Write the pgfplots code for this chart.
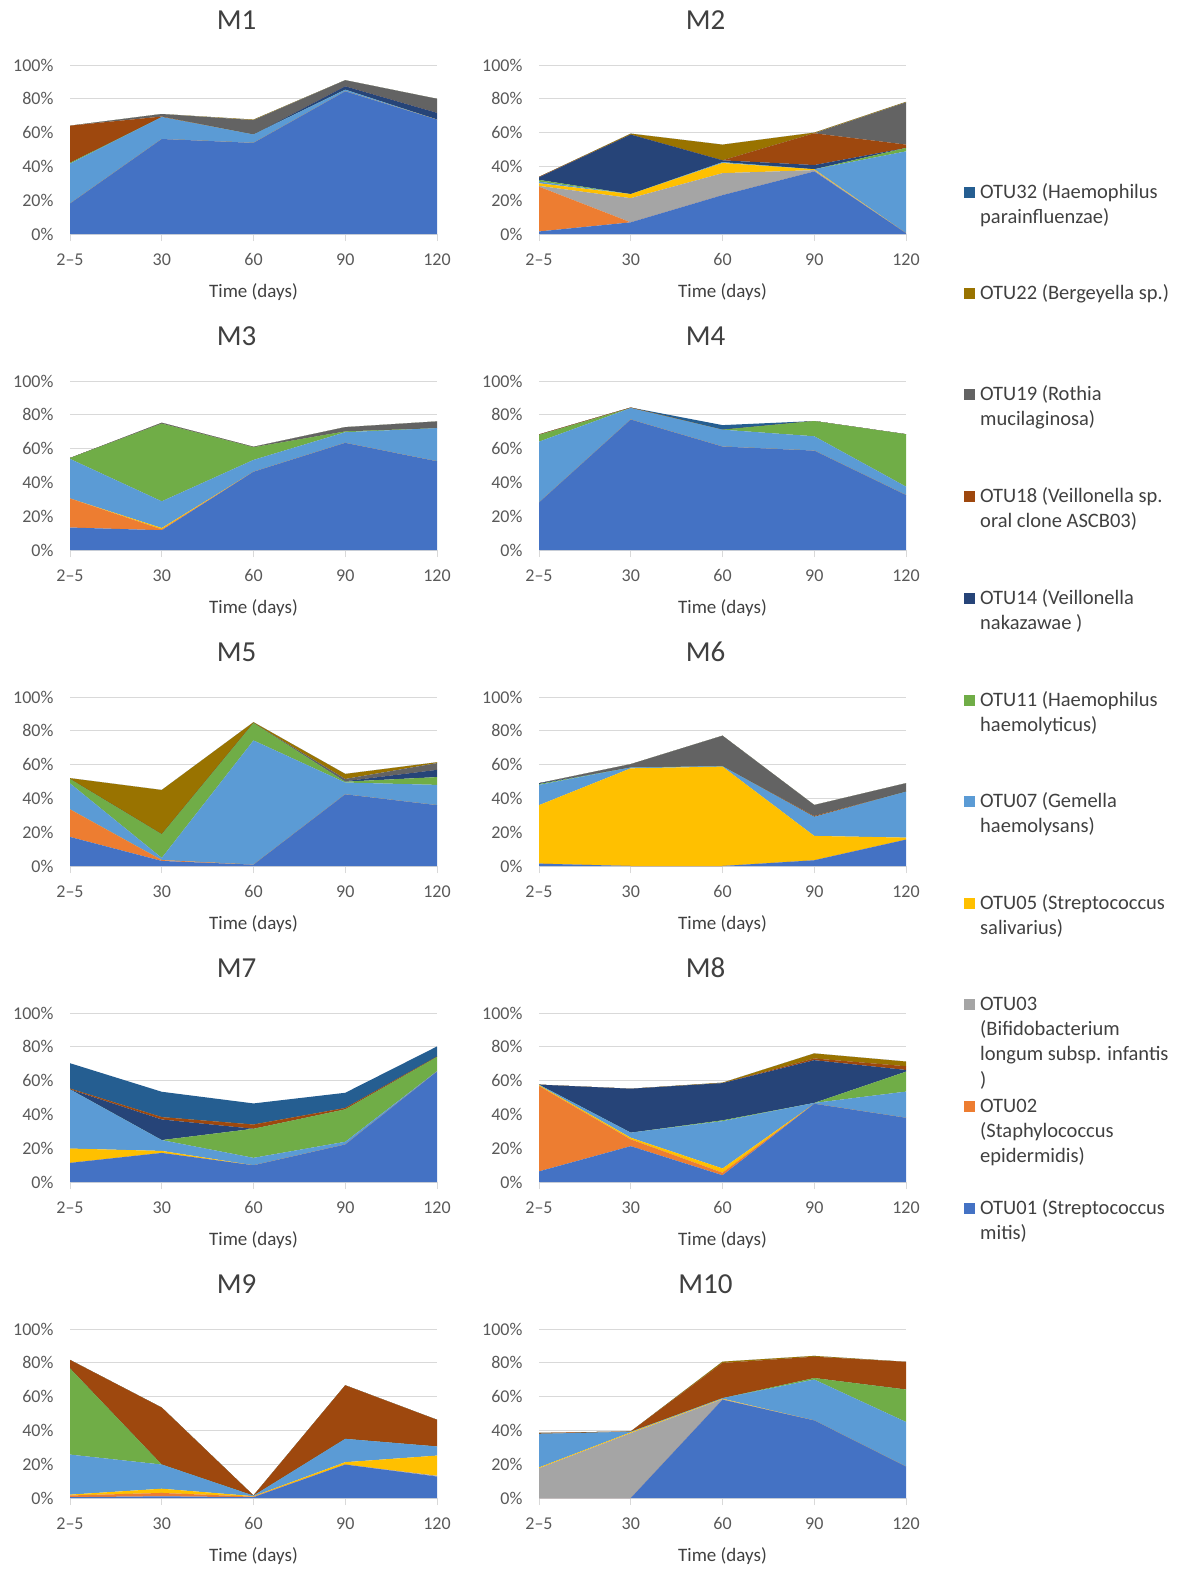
\documentclass[border=0pt]{standalone}
\usepackage{fontspec}
\setmainfont{Carlito}
\usepackage{pgfplots}
\usepackage{pgfplotstable}
\pgfplotsset{compat=1.18}

\definecolor{c01}{HTML}{4472C4}
\definecolor{c02}{HTML}{ED7D31}
\definecolor{c03}{HTML}{A5A5A5}
\definecolor{c05}{HTML}{FFC000}
\definecolor{c07}{HTML}{5B9BD5}
\definecolor{c11}{HTML}{70AD47}
\definecolor{c14}{HTML}{264478}
\definecolor{c18}{HTML}{9E480E}
\definecolor{c19}{HTML}{636363}
\definecolor{c22}{HTML}{997300}
\definecolor{c32}{HTML}{255E91}
\definecolor{axgray}{HTML}{D9D9D9}
\definecolor{tickgray}{HTML}{595959}
\definecolor{labgray}{HTML}{404040}

% columns: time index, then OTU01 OTU02 OTU03 OTU05 OTU07 OTU11 OTU14 OTU18 OTU19 OTU22 OTU32 (%)
\pgfplotstableread{
t a01 a02 a03 a05 a07 a11 a14 a18 a19 a22 a32
0 18   0 0 0 23.6 0.5 0 22  0   0   0
1 56.2 0 0 0 13   0   0 0.3 1.5 0   0
2 53.9 0 0 0 5    0   0 0   8.5 0.3 0
3 84.4 0 0 0 1    0   2 0   3.6 0   0
4 67.7 0 0 0 0    0   4 0   8.3 0   0
}\tMone
\pgfplotstableread{
t a01 a02 a03 a05 a07 a11 a14 a18 a19 a22 a32
0 1.5 26.5 0.5  1.5 1    1 1.5  0.3  0  0   0
1 6.9 0    14.3 2.4 0    0 35.2 0    0  0.6 0
2 23  0    13   6   0.5  0 1.1  0    0  9.3 0
3 37  0    0.8  0.5 0    0 2.5  18.8 0  0.4 0
4 0.5 0    0    0   48.4 2 0    2    25 0.3 0
}\tMtwo
\pgfplotstableread{
t a01 a02 a03 a05 a07 a11 a14 a18 a19 a22 a32
0 13.3 17.2 0 0   23.4 0.5 0 0 0   0 0
1 11.7 0.5  0 0.8 15.8 46  0 0 0.5 0 0
2 46.3 0    0 0   7    7.5 0 0 0.3 0 0
3 63.4 0    0 0   6.3  0.5 0 0 2.5 0 0
4 52.5 0    0 0   19.6 0   0 0 4   0 0
}\tMthree
\pgfplotstableread{
t a01 a02 a03 a05 a07 a11 a14 a18 a19 a22 a32
0 28.1 0 0 0 36  4  0 0.3 0 0 0
1 77.2 0 0 0 6.8 0  0 0.3 0 0 0
2 61.2 0 0 0 10  0  0 0   0 0 2.7
3 58.8 0 0 0 8.5 9  0 0   0 0 0
4 32.5 0 0 0 5   31 0 0   0 0 0
}\tMfour
\pgfplotstableread{
t a01 a02 a03 a05 a07 a11 a14 a18 a19 a22 a32
0 17.2 16.3 0 0 15.4 2.6  0   0 0   0.5  0
1 3    0.5  0 0 1.3  14   0   0 0   26.2 0
2 0.8  0    0 0 73.5 10.3 0   0 0   0.5  0
3 42.4 0    0 0 7    0.5  0.3 0 1.3 3    0
4 36   0    0 0 12   4.6  4.3 0 4   0.5  0
}\tMfive
\pgfplotstableread{
t a01 a02 a03 a05 a07 a11 a14 a18 a19 a22 a32
0 1.4  0 0 34.6 12   0.5 0.5 0   0   0 0
1 0    0 0 57.8 0.5  0   0   0   2   0 0
2 0    0 0 58.8 0.3  0   0   0   18  0 0
3 3.4  0 0 14.4 11.3 0   0   0.5 6.5 0 0
4 15.6 0 0 1.2  27.2 0   0   0   5   0 0
}\tMsix
\pgfplotstableread{
t a01 a02 a03 a05 a07 a11 a14 a18 a19 a22 a32
0 11.3 0 0 8.5 35  0    0    0.5 0 0 15
1 17.2 0 0 1.2 6.4 0    12.2 1.4 0 0 15
2 9.9  0 0 0   4.4 17.2 0    2.5 0 0 12.5
3 22.2 0 0 0   1.6 19.2 0    0.8 0 0 9
4 65.3 0 0 0   0.3 8.4  0    0.2 0 0 6
}\tMseven
\pgfplotstableread{
t a01 a02 a03 a05 a07 a11 a14 a18 a19 a22 a32
0 6.3  50.5 0 0.5 0.3  0    0    0   0 0   0
1 21.2 4    0 1   3    0    26   0   0 0   0
2 4    1.5  0 2.5 28   0.5  22   0   0 0.3 0
3 46.3 0    0 0   0.5  0    25.3 1   0 3   0
4 38   0    0 0   15.5 11.8 1    2.2 0 2.8 0
}\tMeight
\pgfplotstableread{
t a01 a02 a03 a05 a07 a11 a14 a18 a19 a22 a32
0 0.5  1   0   0.5  23.7 51 0 5    0 0 0
1 1    2   0   2.5  14.3 0  0 33.7 0 0 0
2 0.5  0.3 0   0.3  0.3  0  0 0.1  0 0 0
3 19.8 0   0   1.4  13.8 0  0 31.7 0 0 0
4 12.7 0   0.5 11.9 5.4  0  0 15.8 0 0 0
}\tMnine
\pgfplotstableread{
t a01 a02 a03 a05 a07 a11 a14 a18 a19 a22 a32
0 0    0 17.6 0.5 19.9 0    0 0.5  0 0   0
1 0    0 38.4 0.5 0.3  0    0 0.2  0 0   0
2 58.2 0 0.3  0.3 0.3  0    0 20.8 0 0.8 0
3 45.9 0 0    0   24.2 0.9  0 12.6 0 0.5 0
4 18.6 0 0    0   26.4 19.2 0 16.4 0 0   0
}\tMten

\pgfplotsset{panel/.style={
  scale only axis, width=367pt, height=169pt,
  anchor=north west,
  xmin=0, xmax=4, ymin=0, ymax=100,
  xtick={0,1,2,3,4}, xticklabels={2–5,30,60,90,120},
  ytick={0,20,40,60,80,100}, yticklabels={0\%,20\%,40\%,60\%,80\%,100\%},
  axis lines*=left,
  x axis line style={-, draw=axgray, line width=1pt},
  y axis line style={draw=none},
  ymajorgrids, grid style={draw=axgray, line width=1pt},
  tick align=outside,
  major tick length=7pt,
  xtick style={draw=axgray, line width=1pt},
  ytick style={draw=none},
  tick label style={font=\fontsize{18}{20}\selectfont, text=tickgray},
  xticklabel style={yshift=-9pt},
  yticklabel style={xshift=-6pt},
  xlabel={Time (days)},
  xlabel style={font=\fontsize{19}{22}\selectfont, text=labgray, at={(0.5,0)}, anchor=center, yshift=-58pt},
  title style={font=\fontsize{29}{32}\selectfont, text=labgray, at={(0.5,1)}, anchor=center, yshift=39pt, xshift=-17pt},
  stack plots=y,
}}

\newcommand{\panel}[3]{%
\begin{axis}[panel, at={#3}, title={#2}]
\addplot[fill=c01,draw=none] table[x=t,y=a01]{#1} \closedcycle;
\addplot[fill=c02,draw=none] table[x=t,y=a02]{#1} \closedcycle;
\addplot[fill=c03,draw=none] table[x=t,y=a03]{#1} \closedcycle;
\addplot[fill=c05,draw=none] table[x=t,y=a05]{#1} \closedcycle;
\addplot[fill=c07,draw=none] table[x=t,y=a07]{#1} \closedcycle;
\addplot[fill=c11,draw=none] table[x=t,y=a11]{#1} \closedcycle;
\addplot[fill=c14,draw=none] table[x=t,y=a14]{#1} \closedcycle;
\addplot[fill=c18,draw=none] table[x=t,y=a18]{#1} \closedcycle;
\addplot[fill=c19,draw=none] table[x=t,y=a19]{#1} \closedcycle;
\addplot[fill=c22,draw=none] table[x=t,y=a22]{#1} \closedcycle;
\addplot[fill=c32,draw=none] table[x=t,y=a32]{#1} \closedcycle;
\end{axis}}

\newcommand{\legline}[2]{\node[anchor=base west,inner sep=0pt,font=\fontsize{20.5}{24}\selectfont,text=labgray] at (980pt,-#1pt) {#2};}
\newcommand{\legsq}[2]{\fill[#1] (964pt,-#2pt) ++(0pt,11.5pt) rectangle ++(11pt,-11pt);}

\begin{document}
\begin{tikzpicture}
\path[use as bounding box] (0pt,0pt) rectangle (1185pt,-1569pt);
\panel{\tMone}{M1}{(70pt,-65pt)}
\panel{\tMtwo}{M2}{(539pt,-65pt)}
\panel{\tMthree}{M3}{(70pt,-381pt)}
\panel{\tMfour}{M4}{(539pt,-381pt)}
\panel{\tMfive}{M5}{(70pt,-697pt)}
\panel{\tMsix}{M6}{(539pt,-697pt)}
\panel{\tMseven}{M7}{(70pt,-1013pt)}
\panel{\tMeight}{M8}{(539pt,-1013pt)}
\panel{\tMnine}{M9}{(70pt,-1329pt)}
\panel{\tMten}{M10}{(539pt,-1329pt)}

\legsq{c32}{198}\legline{198}{OTU32 (Haemophilus}\legline{223.4}{parainfluenzae)}
\legsq{c22}{299}\legline{299}{OTU22 (Bergeyella sp.)}
\legsq{c19}{400}\legline{400}{OTU19 (Rothia}\legline{425.4}{mucilaginosa)}
\legsq{c18}{502}\legline{502}{OTU18 (Veillonella sp.}\legline{527.4}{oral clone ASCB03)}
\legsq{c14}{604}\legline{604}{OTU14 (Veillonella}\legline{629.4}{nakazawae )}
\legsq{c11}{706}\legline{706}{OTU11 (Haemophilus}\legline{731.4}{haemolyticus)}
\legsq{c07}{807}\legline{807}{OTU07 (Gemella}\legline{832.4}{haemolysans)}
\legsq{c05}{909}\legline{909}{OTU05 (Streptococcus}\legline{934.4}{salivarius)}
\legsq{c03}{1010}\legline{1010}{OTU03}\legline{1035.4}{(Bifidobacterium}\legline{1060.8}{longum subsp. infantis}\legline{1086.2}{)}
\legsq{c02}{1112}\legline{1112}{OTU02}\legline{1137.4}{(Staphylococcus}\legline{1162.8}{epidermidis)}
\legsq{c01}{1214}\legline{1214}{OTU01 (Streptococcus}\legline{1239.4}{mitis)}
\end{tikzpicture}
\end{document}
